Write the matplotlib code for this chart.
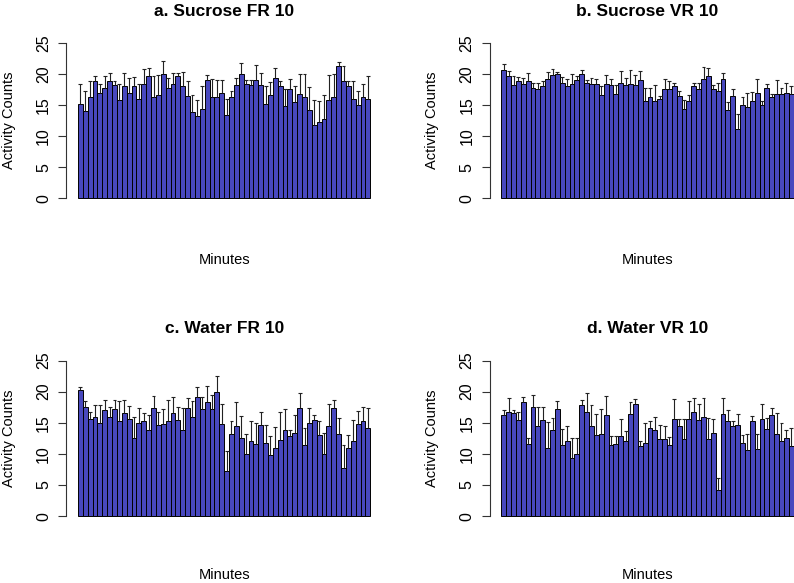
import numpy as np
import matplotlib
matplotlib.use("Agg")
import matplotlib.pyplot as plt

plt.rcParams['font.family'] = ['Liberation Sans', 'DejaVu Sans']

# Mean activity counts per minute (bar heights) and the top of each error bar.
sucrose_fr_mean = [15.2, 14.0, 16.2, 18.8, 17.0, 17.8, 18.8, 18.2, 15.8, 18.0,
                   17.0, 18.0, 16.0, 18.4, 19.6, 16.2, 16.6, 20.0, 17.8, 18.4,
                   19.6, 18.0, 16.4, 13.8, 13.2, 14.4, 19.0, 16.2, 16.2, 17.0,
                   13.4, 16.2, 18.2, 20.0, 18.4, 18.2, 19.0, 18.2, 15.2, 16.6,
                   19.4, 18.0, 14.8, 17.6, 15.4, 16.8, 16.2, 14.2, 11.8, 12.2,
                   12.8, 15.8, 16.2, 21.2, 18.8, 18.0, 16.0, 15.0, 16.2, 16.0]
sucrose_fr_top = [18.3, 17.3, 18.8, 19.6, 18.4, 19.6, 20.2, 18.9, 18.4, 20.1,
                  19.3, 19.5, 18.3, 20.8, 20.9, 19.6, 19.8, 22.0, 19.4, 20.2,
                  20.2, 20.3, 18.8, 16.6, 15.8, 18.0, 19.8, 19.2, 19.0, 19.0,
                  16.0, 17.2, 19.4, 21.7, 19.0, 19.0, 21.4, 20.2, 18.1, 18.7,
                  20.9, 18.8, 17.5, 19.1, 18.1, 19.9, 19.9, 17.9, 15.8, 15.6,
                  16.6, 19.8, 20.0, 21.9, 21.2, 18.9, 18.9, 17.2, 18.3, 19.7]

sucrose_vr_mean = [20.6, 19.6, 18.2, 18.8, 18.4, 18.8, 17.8, 17.6, 18.0, 19.2,
                   19.8, 20.0, 18.6, 18.0, 18.4, 19.0, 20.0, 18.6, 18.4, 18.4,
                   16.6, 18.4, 18.2, 16.8, 18.6, 18.2, 18.4, 18.2, 19.0, 15.6,
                   16.2, 15.6, 16.0, 17.6, 17.6, 18.0, 16.4, 14.4, 15.6, 18.0,
                   17.6, 19.2, 19.6, 17.6, 17.2, 19.2, 14.2, 16.4, 11.2, 15.0,
                   14.6, 15.6, 17.0, 15.0, 17.8, 16.2, 16.8, 16.8, 17.0, 16.8]
sucrose_vr_top = [21.5, 20.4, 19.6, 19.5, 19.3, 20.2, 18.6, 18.6, 18.9, 20.3,
                  20.8, 20.3, 19.5, 19.2, 19.9, 19.6, 20.6, 19.0, 19.3, 19.2,
                  18.0, 19.8, 19.1, 18.2, 20.4, 19.4, 20.6, 19.8, 20.4, 17.7,
                  17.7, 18.2, 16.4, 19.2, 18.9, 18.6, 17.2, 15.8, 16.6, 18.5,
                  18.5, 21.1, 20.9, 18.2, 18.6, 20.1, 15.4, 17.5, 13.6, 16.2,
                  17.0, 17.1, 19.1, 15.7, 18.4, 16.8, 19.0, 17.8, 18.5, 18.1]

water_fr_mean = [20.2, 17.6, 15.6, 16.0, 15.0, 17.0, 16.0, 17.2, 15.2, 16.6,
                 15.6, 12.6, 15.0, 15.2, 13.8, 17.4, 14.6, 14.8, 15.2, 16.6,
                 15.4, 13.8, 17.4, 16.0, 19.2, 17.2, 18.4, 17.2, 20.0, 14.8,
                 7.2, 13.2, 14.4, 12.6, 10.0, 12.0, 11.6, 14.6, 11.8, 9.8,
                 11.0, 12.2, 13.8, 12.8, 13.4, 17.4, 11.4, 15.0, 15.4, 13.0,
                 10.0, 14.4, 17.4, 13.2, 7.8, 11.0, 12.0, 14.8, 15.2, 14.2]
water_fr_top = [20.8, 18.5, 16.7, 17.8, 17.9, 18.6, 17.5, 18.6, 18.5, 18.6,
                17.7, 16.0, 17.4, 16.5, 16.3, 19.3, 16.7, 17.2, 18.6, 19.1,
                17.6, 17.3, 18.9, 18.5, 20.8, 19.2, 20.9, 19.4, 22.5, 18.0,
                10.5, 15.3, 18.4, 16.1, 13.2, 15.2, 14.9, 16.8, 14.6, 12.9,
                14.3, 16.7, 17.2, 13.8, 16.3, 19.7, 14.2, 17.3, 16.2, 15.3,
                13.3, 18.0, 18.6, 15.8, 11.5, 13.0, 15.5, 16.9, 17.5, 17.4]

water_vr_mean = [16.2, 16.8, 16.6, 15.4, 18.4, 11.6, 17.6, 14.4, 15.4, 11.0,
                 13.8, 17.2, 11.4, 12.0, 9.4, 10.0, 17.8, 16.8, 14.4, 13.0,
                 13.2, 16.2, 11.4, 11.6, 12.8, 12.0, 16.4, 18.0, 11.2, 11.8,
                 14.2, 13.8, 12.4, 12.4, 11.4, 15.6, 14.4, 12.4, 15.6, 16.8,
                 15.4, 16.0, 12.4, 13.4, 4.2, 16.4, 15.2, 14.4, 14.6, 11.8,
                 10.6, 15.2, 10.8, 15.6, 14.0, 16.2, 13.2, 12.0, 12.6, 11.2]
water_vr_top = [17.0, 18.9, 17.0, 16.7, 19.2, 12.6, 19.5, 17.6, 17.6, 15.1,
                15.8, 18.5, 14.0, 14.5, 12.5, 12.5, 18.7, 19.7, 17.8, 16.4,
                17.2, 19.3, 12.9, 12.9, 15.6, 13.7, 18.3, 18.8, 12.0, 15.0,
                15.2, 16.0, 14.6, 14.4, 12.7, 18.8, 15.6, 15.6, 18.5, 19.0,
                18.0, 19.0, 15.7, 15.6, 6.1, 19.0, 17.1, 15.2, 16.4, 13.0,
                13.2, 16.1, 13.2, 18.0, 15.8, 17.4, 16.6, 15.0, 13.8, 14.2]

titles = ["a. Sucrose FR 10", "b. Sucrose VR 10", "c. Water FR 10", "d. Water VR 10"]
means = [sucrose_fr_mean, sucrose_vr_mean, water_fr_mean, water_vr_mean]
tops = [sucrose_fr_top, sucrose_vr_top, water_fr_top, water_vr_top]

# Axes placement in figure fractions (right column runs past the edge, as in the original).
positions = [[0.0835, 0.6492, 0.3976, 0.2882],
             [0.6167, 0.6492, 0.3976, 0.2882],
             [0.0835, 0.1041, 0.3976, 0.2882],
             [0.6167, 0.1041, 0.3976, 0.2882]]
xlabel_y = [-0.29, -0.29, -0.27, -0.27]

bar_color = '#4848BE'


# Draws one bar panel with upper error bars, R barplot style.
def draw_panel(ax, mean, top, title, label_y):
    x = np.arange(len(mean)) + 0.5
    mean = np.array(mean)
    top = np.array(top)
    ax.bar(x, mean, width=1.0, color=bar_color, edgecolor='black', linewidth=0.7)
    ax.vlines(x, mean, top, color='#222222', linewidth=0.8)
    ax.hlines(top, x - 0.4, x + 0.4, color='#222222', linewidth=0.8)

    ax.set_xlim(-2.4, len(mean) + 2.4)
    ax.set_ylim(-1, 26)
    ax.set_yticks([0, 5, 10, 15, 20, 25])
    ax.set_xticks([])
    for side in ['top', 'right', 'bottom']:
        ax.spines[side].set_visible(False)
    ax.spines['left'].set_bounds(0, 25)
    ax.spines['left'].set_color('#333333')
    ax.tick_params(axis='y', length=6, width=0.8, color='#333333', pad=5, labelsize=11.5)
    for lab in ax.get_yticklabels():
        lab.set_rotation(90)
        lab.set_va('center')

    ax.set_title(title, fontsize=12.5, fontweight='bold', pad=15)
    ax.set_ylabel("Activity Counts", fontsize=10.5)
    ax.yaxis.set_label_coords(-0.16, 0.5)
    ax.set_xlabel("Minutes", fontsize=10.5)
    ax.xaxis.set_label_coords(0.5, label_y)


fig = plt.figure(figsize=(7.94, 5.83), dpi=100)
for pos, m, t, ttl, ly in zip(positions, means, tops, titles, xlabel_y):
    ax = fig.add_axes(pos)
    ax.patch.set_alpha(0)
    draw_panel(ax, m, t, ttl, ly)

fig.savefig("out.png", dpi=100)
